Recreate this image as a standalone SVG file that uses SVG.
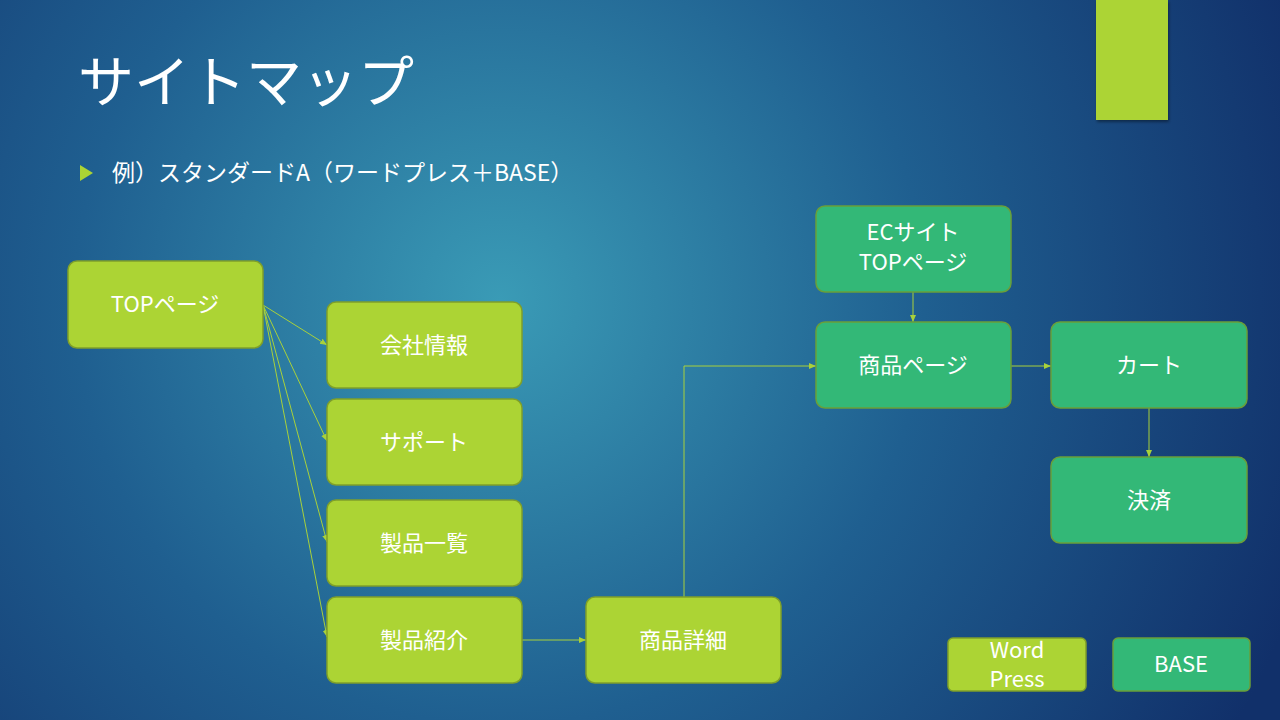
<svg xmlns="http://www.w3.org/2000/svg" width="1280" height="720" viewBox="0 0 1280 720">
<defs>
<radialGradient id="bg" cx="500" cy="300" r="850" gradientUnits="userSpaceOnUse">
<stop offset="0" stop-color="#3a9bb6"/>
<stop offset="0.5" stop-color="#1f5f90"/>
<stop offset="1" stop-color="#11306a"/>
</radialGradient>
<marker id="ah" markerWidth="8" markerHeight="8" refX="7" refY="4" orient="auto" markerUnits="userSpaceOnUse">
<path d="M0,1 L7,4 L0,7 Z" fill="#a9d13a"/>
</marker>
<filter id="sh" x="-20%" y="-20%" width="140%" height="140%"><feDropShadow dx="1" dy="2" stdDeviation="1.5" flood-opacity="0.4"/></filter>
</defs>
<style>
.w rect{fill:#acd434;stroke:#7f9f2a;stroke-width:1.5}
.b rect{fill:#33b877;stroke:#6a9e3a;stroke-width:1.5}
text{font-family:"Noto Sans CJK JP","Noto Sans",sans-serif;fill:#fff;font-size:22px;text-anchor:middle}
.c line,.c polyline{stroke:#a9d13a;stroke-width:1;fill:none;marker-end:url(#ah)}
</style>
<rect width="1280" height="720" fill="url(#bg)"/>
<rect x="1096" y="0" width="72" height="120" fill="#acd434" filter="url(#sh)"/>
<text x="78" y="102" style="font-size:56px;text-anchor:start">サイトマップ</text>
<path d="M80,165 L93,173 L80,181 Z" fill="#acd434"/>
<text x="112" y="181" style="font-size:23px;text-anchor:start">例）スタンダードA（ワードプレス＋BASE）</text>
<g class="c">
<line x1="263" y1="305" x2="327" y2="345"/>
<line x1="263" y1="305" x2="327" y2="441"/>
<line x1="263" y1="305" x2="327" y2="542"/>
<line x1="263" y1="305" x2="327" y2="637"/>
<line x1="522" y1="640" x2="586" y2="640"/>
<polyline points="684,597 684,366 816,366"/>
<line x1="913" y1="292" x2="913" y2="322"/>
<line x1="1011" y1="366" x2="1051" y2="366"/>
<line x1="1149" y1="408" x2="1149" y2="457"/>
</g>
<g id="top" class="w"><rect x="68" y="261" width="195" height="87" rx="9"/><text x="165" y="312">TOPページ</text></g>
<g id="kaisha" class="w"><rect x="327" y="302" width="195" height="86" rx="9"/><text x="424" y="353">会社情報</text></g>
<g id="support" class="w"><rect x="327" y="399" width="195" height="86" rx="9"/><text x="424" y="450">サポート</text></g>
<g id="ichiran" class="w"><rect x="327" y="500" width="195" height="86" rx="9"/><text x="424" y="551">製品一覧</text></g>
<g id="shokai" class="w"><rect x="327" y="597" width="195" height="86" rx="9"/><text x="424" y="648">製品紹介</text></g>
<g id="shosai" class="w"><rect x="586" y="597" width="195" height="86" rx="9"/><text x="683" y="648">商品詳細</text></g>
<g id="ectop" class="b"><rect x="816" y="206" width="195" height="86" rx="9"/><text x="913" y="240">ECサイト</text><text x="913" y="270">TOPページ</text></g>
<g id="shohin" class="b"><rect x="816" y="322" width="195" height="86" rx="9"/><text x="913" y="373">商品ページ</text></g>
<g id="cart" class="b"><rect x="1051" y="322" width="196" height="86" rx="9"/><text x="1149" y="373">カート</text></g>
<g id="kessai" class="b"><rect x="1051" y="457" width="196" height="86" rx="9"/><text x="1149" y="508">決済</text></g>
<g id="legend-wp" class="w"><rect x="948" y="638" width="138" height="53" rx="5"/><text x="1017" y="658">Word</text><text x="1017" y="687">Press</text></g>
<g id="legend-base" class="b"><rect x="1113" y="638" width="137" height="53" rx="5"/><text x="1181" y="672">BASE</text></g>
</svg>
